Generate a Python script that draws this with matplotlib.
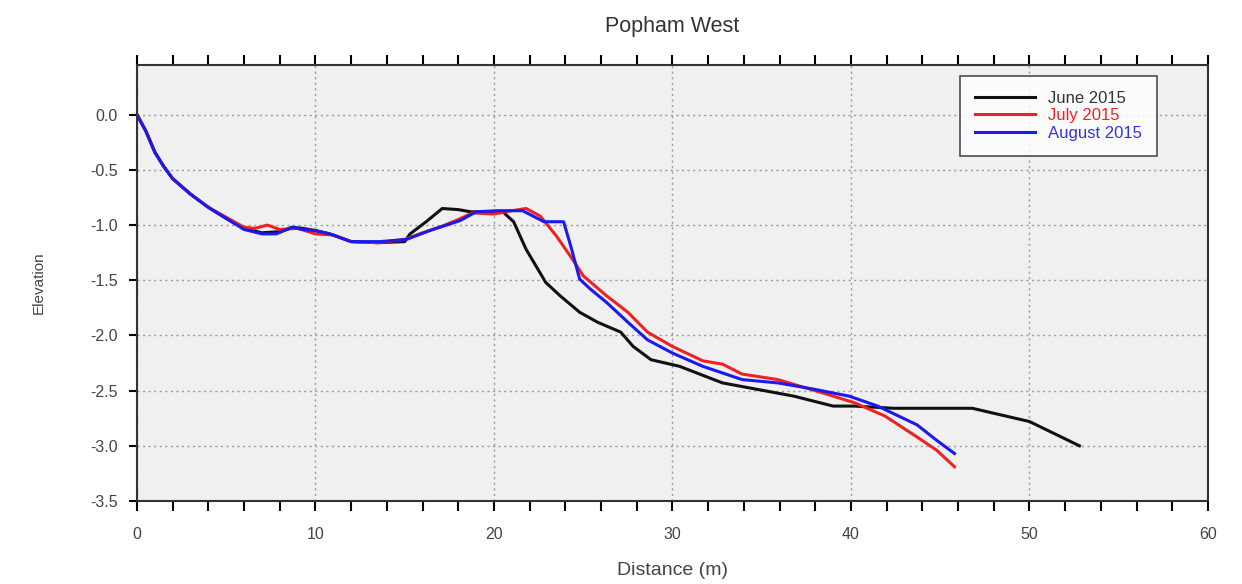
import matplotlib.pyplot as plt
from matplotlib.ticker import MultipleLocator

# cross-shore profile, distance (m) vs elevation
june_x = [0, 0.5, 1.0, 1.5, 2.0, 3.0, 4.0, 5.0, 6.0, 7.0, 8.0, 8.7, 9.3, 10.0,
          10.8, 12.0, 13.5, 15.0, 15.3, 16.2, 17.1, 18.0, 18.7, 20.0, 20.5,
          21.1, 21.8, 22.9, 23.7, 24.8, 25.8, 27.1, 27.8, 28.8, 30.4, 32.8,
          34.8, 36.8, 39.0, 40.2, 42.4, 46.8, 50.0, 52.8]
june_y = [0, -0.15, -0.34, -0.47, -0.58, -0.72, -0.84, -0.94, -1.03, -1.07,
          -1.06, -1.02, -1.03, -1.05, -1.08, -1.15, -1.16, -1.15, -1.08, -0.97,
          -0.85, -0.86, -0.88, -0.88, -0.88, -0.97, -1.22, -1.52, -1.64, -1.79,
          -1.88, -1.97, -2.10, -2.22, -2.28, -2.43, -2.49, -2.55, -2.64, -2.64,
          -2.66, -2.66, -2.78, -3.00]

july_x = [0, 0.5, 1.0, 1.5, 2.0, 3.0, 4.0, 5.0, 6.0, 6.6, 7.3, 8.0, 9.0, 10.0,
          11.0, 12.0, 13.5, 15.0, 16.0, 17.1, 18.0, 18.8, 20.0, 21.0, 21.8,
          22.6, 23.5, 24.4, 25.0, 26.3, 27.5, 28.6, 30.0, 31.7, 32.8, 33.9,
          35.9, 38.4, 40.2, 41.9, 43.7, 44.8, 45.8]
july_y = [0, -0.15, -0.34, -0.47, -0.58, -0.72, -0.84, -0.93, -1.02, -1.03,
          -1.00, -1.04, -1.03, -1.08, -1.09, -1.15, -1.16, -1.13, -1.07, -1.01,
          -0.95, -0.89, -0.90, -0.87, -0.85, -0.92, -1.10, -1.31, -1.46, -1.64,
          -1.79, -1.97, -2.10, -2.23, -2.26, -2.35, -2.40, -2.52, -2.61, -2.73,
          -2.92, -3.04, -3.19]

aug_x = [0, 0.5, 1.0, 1.5, 2.0, 3.0, 4.0, 5.0, 6.0, 7.0, 7.8, 8.7, 9.3, 10.0,
         10.8, 12.0, 13.6, 15.1, 16.4, 18.1, 19.0, 20.2, 21.6, 22.8, 23.9,
         24.3, 24.8, 25.4, 26.3, 27.5, 28.6, 30.0, 31.7, 33.9, 35.9, 37.7,
         39.9, 41.5, 43.7, 44.8, 45.8]
aug_y = [0, -0.15, -0.34, -0.47, -0.58, -0.72, -0.84, -0.94, -1.04, -1.08,
         -1.08, -1.02, -1.04, -1.05, -1.08, -1.15, -1.15, -1.13, -1.05, -0.96,
         -0.88, -0.87, -0.87, -0.97, -0.97, -1.19, -1.49, -1.58, -1.70, -1.88,
         -2.04, -2.16, -2.28, -2.40, -2.43, -2.48, -2.55, -2.64, -2.81, -2.95,
         -3.07]

plt.rcParams['font.family'] = ['Liberation Sans', 'DejaVu Sans']

fig = plt.figure(figsize=(12.42, 5.84), dpi=100)
ax = fig.add_axes([0.1103, 0.1421, 0.8623, 0.7466])
ax.set_facecolor('#f0f0f0')

ax.plot(june_x, june_y, color='#111111', lw=2.2, label='June 2015')
ax.plot(july_x, july_y, color='#ee2222', lw=2.2, label='July 2015')
ax.plot(aug_x, aug_y, color='#1a1aee', lw=2.2, label='August 2015')

ax.set_xlim(0, 60)
ax.set_ylim(-3.5, 0.45)
ax.xaxis.set_major_locator(MultipleLocator(10))
ax.xaxis.set_minor_locator(MultipleLocator(2))
ax.yaxis.set_major_locator(MultipleLocator(0.5))
ax.yaxis.set_major_formatter(lambda v, p: f'{v:.1f}')

ax.tick_params(axis='x', which='both', top=True, bottom=True, direction='out',
               labelsize=11.5, labelcolor='#444444', width=1.5, length=7,
               pad=12)
ax.tick_params(axis='y', direction='out', length=6, width=1.5,
               labelsize=11.5, labelcolor='#444444', pad=8)
for s in ax.spines.values():
    s.set_linewidth(1.5)
    s.set_color('#333333')

ax.grid(True, which='major', linestyle=(0, (1.5, 2.5)), color='#999999',
        linewidth=1.0)

ax.set_title('Popham West', fontsize=15.5, color='#333333', pad=24)
ax.set_xlabel('Distance (m)', fontsize=14, color='#444444', labelpad=14)
ax.set_ylabel('Elevation', fontsize=11, color='#444444', labelpad=32)

leg = ax.legend(loc='upper right', bbox_to_anchor=(0.9605, 0.995),
                fontsize=12, frameon=True, fancybox=False,
                edgecolor='#222222', handlelength=3.6, labelspacing=0.15,
                borderpad=0.9, handletextpad=0.8)
leg.get_frame().set_linewidth(1.2)
for txt, c in zip(leg.get_texts(), ['#333333', '#ee2222', '#3333dd']):
    txt.set_color(c)

fig.savefig('out.png', dpi=100)
